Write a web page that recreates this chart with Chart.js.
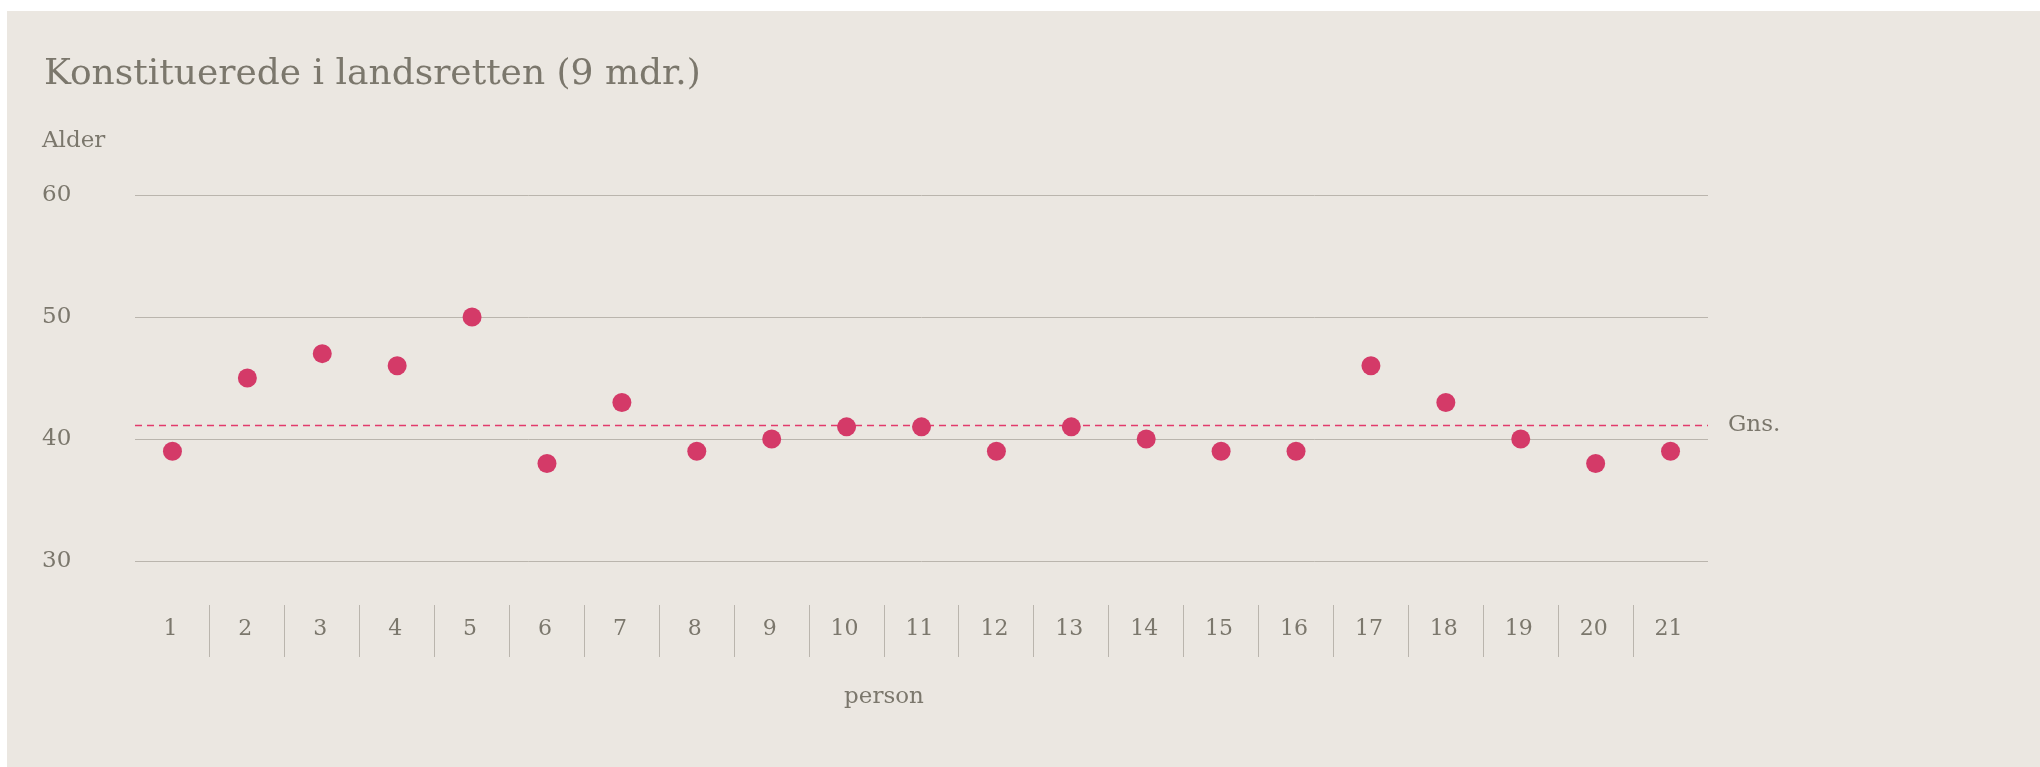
<!DOCTYPE html>
<html>
<head>
  <title>Konstituerede i landsretten</title>
  <style>
    body { margin: 0; background: #fff; }
    #panel { position: absolute; left: 7px; top: 11px; width: 2033px; height: 756px; background: #ebe7e1; }
  </style>
</head>
<body>
  <div id="panel"><canvas id="myChart"></canvas></div>
  <script src="https://cdn.jsdelivr.net/npm/chart.js@4.4.0/dist/chart.umd.min.js"></script>

  <script>
    // data
    const persons = ['1', '2', '3', '4', '5', '6', '7', '8', '9', '10', '11', '12', '13', '14', '15', '16', '17', '18', '19', '20', '21'];
    const alder = [39, 45, 47, 46, 50, 38, 43, 39, 40, 41, 41, 39, 41, 40, 39, 39, 46, 43, 40, 38, 39];
    const gennemsnit = 41.15;
    const yTicks = [30, 40, 50, 60];

    const titleText = 'Konstituerede i landsretten (9 mdr.)';
    const yLabel = 'Alder';
    const xLabel = 'person';
    const avgLabel = 'Gns.';

    const textColor = '#7b776c';
    const gridColor = '#bab5ad';
    const dotColor = '#d43a68';
    const avgColor = '#e23b6c';
    const serif = '"DejaVu Serif", "Liberation Serif", serif';

    // average line + free texts
    const extras = {
      id: 'extras',
      beforeDatasetsDraw(chart) {
        const { ctx, chartArea, scales } = chart;
        const y = Math.round(scales.y.getPixelForValue(gennemsnit)) + 0.5;
        ctx.save();
        ctx.strokeStyle = avgColor;
        ctx.lineWidth = 1.3;
        ctx.setLineDash([7, 5]);
        ctx.beginPath();
        ctx.moveTo(chartArea.left, y);
        ctx.lineTo(chartArea.right, y);
        ctx.stroke();
        ctx.restore();
      },
      afterDraw(chart) {
        const { ctx, chartArea, scales } = chart;
        ctx.save();
        ctx.fillStyle = textColor;
        ctx.textAlign = 'left';
        ctx.textBaseline = 'alphabetic';
        ctx.font = '36px ' + serif;
        ctx.fillText(titleText, 37, 73);
        ctx.font = '23px ' + serif;
        ctx.fillText(yLabel, 35, 136);
        ctx.textBaseline = 'middle';
        ctx.fillText(avgLabel, chartArea.right + 20, scales.y.getPixelForValue(gennemsnit));
        ctx.textAlign = 'center';
        ctx.fillText(xLabel, 877, 686);
        ctx.restore();
      }
    };

    const ctx = document.getElementById('myChart').getContext('2d');
    const chart = new Chart(ctx, {
      type: 'line',
      data: {
        labels: persons,
        datasets: [{
          data: alder,
          showLine: false,
          pointRadius: 9.5,
          pointHoverRadius: 9.5,
          pointBackgroundColor: dotColor,
          pointBorderWidth: 0,
          borderColor: dotColor
        }]
      },
      plugins: [extras],
      options: {
        responsive: true,
        maintainAspectRatio: false,
        animation: false,
        layout: { padding: { left: 35, top: 184, right: 332, bottom: 102 } },
        plugins: {
          legend: { display: false },
          tooltip: { enabled: false }
        },
        scales: {
          x: {
            offset: true,
            afterFit: s => { s.height = 60; },
            border: { display: false },
            grid: {
              offset: true,
              drawOnChartArea: false,
              tickLength: 52,
              lineWidth: 1,
              color: c => (c.type === 'tick' && c.index > 0) ? gridColor : 'rgba(0,0,0,0)'
            },
            ticks: {
              color: textColor,
              font: { family: serif, size: 22 },
              padding: -41,
              labelOffset: -2,
              maxRotation: 0,
              autoSkip: false
            }
          },
          y: {
            min: 26.4,
            max: 60,
            afterBuildTicks: s => { s.ticks = yTicks.map(v => ({ value: v })); },
            afterFit: s => { s.width = 93; },
            border: { display: false },
            grid: { color: gridColor, lineWidth: 1, drawTicks: false },
            ticks: {
              color: textColor,
              font: { family: serif, size: 23 },
              crossAlign: 'far',
              padding: 0
            }
          }
        }
      }
    });
  </script>
</body>
</html>
